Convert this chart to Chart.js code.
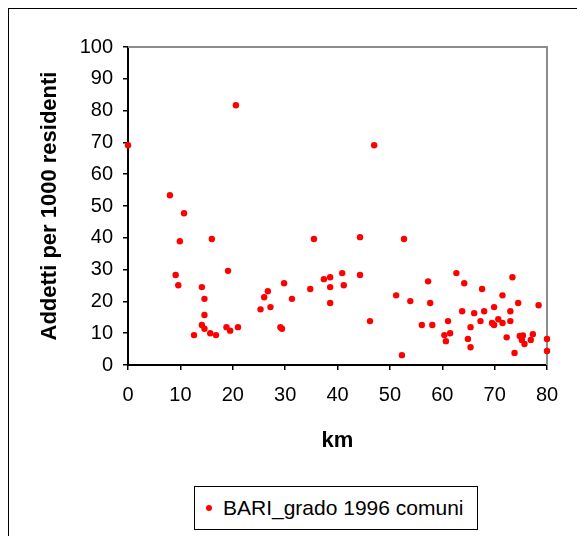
<!DOCTYPE html>
<html>
<head>
<meta charset="utf-8">
<script src="https://cdn.jsdelivr.net/npm/chart.js@4.4.1/dist/chart.umd.min.js"></script>
<style>
  html, body { margin: 0; padding: 0; background: #fff; overflow: hidden; }
  #wrap { position: relative; width: 577px; height: 536px; }
  #frame { position: absolute; left: 8px; top: 8px; width: 600px; height: 600px; border: 1px solid #000; box-sizing: border-box; }
  #chart { position: absolute; left: 0; top: 0; }
  #legend {
    position: absolute; left: 194px; top: 486px; width: 284px; height: 44px;
    border: 1px solid #000; box-sizing: border-box; background: #fff;
    font: 21px "Liberation Sans", Arial, sans-serif; color: #000;
    display: flex; align-items: center;
  }
  #legend .dot { width: 6px; height: 6px; border-radius: 50%; background: #ff0000; margin-left: 11px; margin-right: 11px; }
</style>
</head>
<body>
<div id="wrap">
  <div id="frame"></div>
  <canvas id="chart" width="577" height="536"></canvas>
  <div id="legend"><span class="dot"></span><span id="legendText"></span></div>
</div>
<script>
  const seriesName = 'BARI_grado 1996 comuni';
  const xTitle = 'km';
  const yTitle = 'Addetti per 1000 residenti';

  // distance from Bari (km)
  const kmValues = [
    0, 8.0, 10.7, 9.9, 9.1, 9.6, 12.6, 14.1, 14.6, 14.6,
    14.1, 14.6, 15.7, 16.8, 16.0, 18.8, 19.5, 19.1, 20.6, 21.0,
    25.3, 26.0, 26.7, 27.2, 29.1, 29.4, 29.8, 31.3, 34.8, 35.5,
    37.4, 38.6, 38.6, 38.6, 40.9, 41.2, 44.3, 44.3, 46.2, 47.0,
    51.2, 52.3, 52.7, 53.9, 56.1, 57.3, 57.7, 58.1, 60.4, 60.7,
    61.1, 61.5, 62.7, 63.8, 64.2, 64.9, 65.4, 65.4, 66.1, 67.3,
    67.6, 68.0, 69.5, 69.9, 69.9, 70.7, 71.5, 71.5, 72.3, 73.0,
    73.0, 73.4, 73.8, 74.5, 74.8, 75.4, 75.2, 75.7, 76.9, 77.3,
    78.4, 80.0, 80.0
  ];
  // employees per 1000 residents
  const addettiValues = [
    69.1, 53.4, 47.7, 38.9, 28.3, 25.1, 9.4, 24.5, 20.8, 15.7,
    12.6, 11.4, 10.0, 9.4, 39.6, 11.9, 10.8, 29.6, 81.7, 11.9,
    17.5, 21.3, 23.2, 18.2, 11.9, 11.4, 25.7, 20.8, 23.9, 39.6,
    27.0, 27.6, 24.5, 19.5, 28.9, 25.1, 40.2, 28.3, 13.8, 69.1,
    21.9, 3.1, 39.6, 20.1, 12.6, 26.3, 19.5, 12.6, 9.4, 7.5,
    13.8, 10.0, 28.9, 16.9, 25.7, 8.2, 11.9, 5.6, 16.3, 13.8,
    23.9, 16.9, 13.2, 12.6, 18.2, 14.4, 21.9, 13.2, 8.7, 16.9,
    13.8, 27.6, 3.8, 19.5, 9.1, 9.3, 7.9, 6.6, 7.9, 9.7,
    18.8, 8.2, 4.4
  ];
  const xTicks = [0, 10, 20, 30, 40, 50, 60, 70, 80];
  const yTicks = [0, 10, 20, 30, 40, 50, 60, 70, 80, 90, 100];

  const FONT = "'Liberation Sans', Arial, sans-serif";

  document.getElementById('legendText').textContent = seriesName;

  // grey top and right edges of the plot area
  const plotFrame = {
    id: 'plotFrame',
    beforeDatasetsDraw(chart) {
      const { ctx, chartArea: a } = chart;
      ctx.save();
      ctx.strokeStyle = '#8c8c8c';
      ctx.lineWidth = 2;
      ctx.beginPath();
      ctx.moveTo(a.left, a.top);
      ctx.lineTo(a.right, a.top);
      ctx.lineTo(a.right, a.bottom);
      ctx.stroke();
      ctx.restore();
    }
  };

  const points = kmValues.map((x, i) => ({ x, y: addettiValues[i] }));

  new Chart(document.getElementById('chart').getContext('2d'), {
    type: 'scatter',
    data: {
      datasets: [{
        label: seriesName,
        data: points,
        backgroundColor: '#ff0000',
        borderColor: '#ff0000',
        borderWidth: 0,
        pointRadius: 3.2,
        pointHoverRadius: 3.2,
        clip: false
      }]
    },
    options: {
      responsive: false,
      animation: false,
      layout: { padding: { left: 0, top: 47, right: 30, bottom: 0 } },
      plugins: { legend: { display: false }, tooltip: { enabled: false } },
      scales: {
        x: {
          type: 'linear', min: 0, max: 80,
          afterFit: (s) => { s.height = 171; },
          afterBuildTicks: (s) => { s.ticks = xTicks.map(v => ({ value: v })); },
          ticks: { color: '#000', font: { family: FONT, size: 20 }, padding: 13, maxRotation: 0 },
          grid: { drawOnChartArea: false, drawTicks: true, tickLength: 5, color: '#000', lineWidth: 1.5 },
          border: { color: '#000', width: 2 },
          title: { display: true, text: xTitle, color: '#000', font: { family: FONT, size: 22, weight: 'bold' }, padding: { top: 0, bottom: 82 } }
        },
        y: {
          type: 'linear', min: 0, max: 100,
          afterFit: (s) => { s.width = 128; },
          afterBuildTicks: (s) => { s.ticks = yTicks.map(v => ({ value: v })); },
          ticks: { color: '#000', font: { family: FONT, size: 20 }, padding: 10 },
          grid: { drawOnChartArea: false, drawTicks: true, tickLength: 5, color: '#000', lineWidth: 1.5 },
          border: { color: '#000', width: 2 },
          title: { display: true, text: yTitle, color: '#000', font: { family: FONT, size: 22, weight: 'bold' }, padding: { top: 37, bottom: 0 } }
        }
      }
    },
    plugins: [plotFrame]
  });
</script>
</body>
</html>
